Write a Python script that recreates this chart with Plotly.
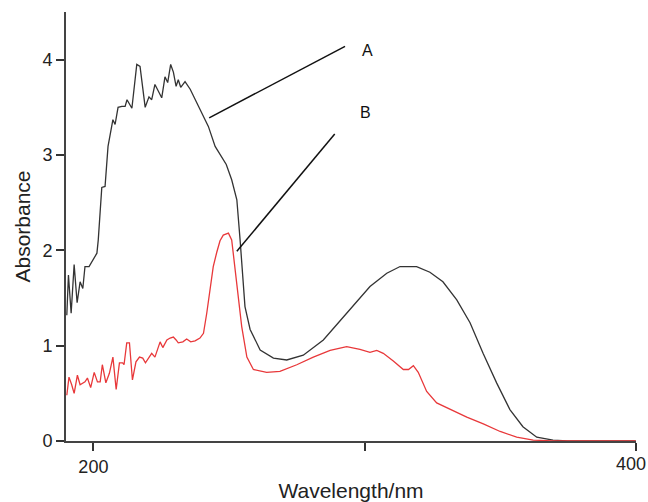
import plotly.graph_objects as go

# Curve A (black)
wl_a = [190.2, 190.8, 191.8, 192.9, 194.0, 195.1, 196.1, 196.9, 198.4, 199.9, 201.3, 201.8,
        203.1, 204.3, 205.4, 207.2, 208.0, 209.1, 210.5, 211.7, 212.4, 214.2, 216.0, 217.2,
        219.1, 220.5, 221.5, 222.7, 225.2, 226.4, 227.4, 228.5, 229.5, 230.5, 231.3, 232.2,
        233.8, 235.7, 238.1, 240.6, 242.4, 244.9, 246.7, 249.0, 251.0, 252.9, 254.1, 255.1, 255.9,
        257.8, 261.5, 266.4, 271.3, 277.4, 284.8, 293.4, 302.0, 308.2, 313.1, 319.2, 324.1,
        328.9, 334.0, 338.9, 343.7, 348.7, 353.6, 358.4, 363.5, 369.5, 374.7, 400.0]
abs_a = [1.32, 1.74, 1.34, 1.85, 1.45, 1.67, 1.60, 1.83, 1.83, 1.90, 1.97, 2.11,
         2.66, 2.67, 3.09, 3.37, 3.32, 3.50, 3.51, 3.51, 3.58, 3.49, 3.95, 3.93,
         3.50, 3.61, 3.58, 3.74, 3.60, 3.82, 3.76, 3.95, 3.87, 3.72, 3.79, 3.71,
         3.77, 3.69, 3.55, 3.42, 3.30, 3.09, 3.00, 2.90, 2.74, 2.53, 2.11, 1.69, 1.41,
         1.17, 0.955, 0.87, 0.85, 0.90, 1.06, 1.34, 1.62, 1.76, 1.83, 1.83, 1.77,
         1.67, 1.48, 1.24, 0.92, 0.61, 0.33, 0.15, 0.04, 0.01, 0.0, 0.0]

# Curve B (red)
wl_b = [190.2, 191.0, 192.0, 192.9, 194.1, 195.1, 196.9, 197.8, 199.0, 200.3, 201.5, 202.5,
        203.3, 204.6, 205.9, 207.2, 208.4, 209.6, 210.8, 211.3, 212.3, 213.3, 214.4, 215.7,
        217.0, 218.2, 219.2, 220.3, 221.5, 222.7, 224.6, 225.6, 227.1, 228.3, 229.5, 230.5,
        231.3, 233.0, 234.4, 235.9, 237.5, 239.3, 240.6, 241.8, 243.0, 244.2, 245.5, 246.7,
        247.9, 249.8, 251.0, 252.2, 253.5, 254.7, 256.6, 259.0, 263.9, 268.8, 275.0, 281.1,
        287.3, 293.4, 298.3, 302.0, 304.5, 306.9, 310.6, 314.3, 316.2, 318.0, 319.8, 322.9,
        326.6, 331.5, 337.7, 343.8, 350.0, 356.1, 362.2, 369.5, 400.0]
abs_b = [0.48, 0.67, 0.59, 0.50, 0.69, 0.59, 0.62, 0.66, 0.56, 0.72, 0.62, 0.62,
         0.80, 0.61, 0.71, 0.88, 0.54, 0.82, 0.82, 0.80, 1.03, 1.03, 0.64, 0.83,
         0.88, 0.87, 0.82, 0.87, 0.92, 0.88, 1.04, 0.98, 1.06, 1.08, 1.09, 1.06,
         1.03, 1.04, 1.07, 1.04, 1.05, 1.08, 1.13, 1.34, 1.59, 1.83, 1.98, 2.10,
         2.16, 2.18, 2.11, 1.83, 1.48, 1.20, 0.88, 0.75, 0.72, 0.73, 0.80, 0.88,
         0.95, 0.99, 0.96, 0.93, 0.95, 0.92, 0.84, 0.75, 0.75, 0.79, 0.72, 0.52,
         0.40, 0.33, 0.25, 0.18, 0.10, 0.04, 0.01, 0.0, 0.0]

# Label leader lines: (x0, y0, x1, y1) and label positions
lead_a = [242.7, 3.39, 292.8, 4.14]
lead_b = [252.9, 1.99, 289.0, 3.22]
label_a = [301.0, 4.10]
label_b = [300.2, 3.45]

x_ticks = [200, 300, 400]
x_ticktext = ["200", "", ""]
x_edge_label = [400, "400"]
y_ticks = [0, 1, 2, 3, 4]

FAM = "Liberation Sans, Arial"
tick_font = dict(family=FAM, size=18, color="#222222")
title_font = dict(family=FAM, size=21, color="#222222")

fig = go.Figure()
fig.add_trace(go.Scatter(x=wl_a, y=abs_a, mode="lines",
                         line=dict(color="#333333", width=1.3), showlegend=False))
fig.add_trace(go.Scatter(x=wl_b, y=abs_b, mode="lines",
                         line=dict(color="#e8383a", width=1.3), showlegend=False))

for ld in (lead_a, lead_b):
    fig.add_shape(type="line", xref="x", yref="y", x0=ld[0], y0=ld[1], x1=ld[2], y1=ld[3],
                  line=dict(color="#111111", width=1.5))

for txt, pos in (("A", label_a), ("B", label_b)):
    fig.add_annotation(x=pos[0], y=pos[1], xref="x", yref="y", text=txt, showarrow=False,
                       font=dict(family=FAM, size=16, color="#111111"))

# right-most tick label, shifted left so it stays inside the page
fig.add_annotation(x=x_edge_label[0], y=0, xref="x", yref="paper", text=x_edge_label[1],
                   showarrow=False, xanchor="right", yanchor="top", xshift=12, yshift=-11,
                   font=tick_font)

fig.update_layout(
    width=648, height=502,
    margin=dict(l=66, r=12, t=12, b=61),
    paper_bgcolor="white", plot_bgcolor="white",
    font=tick_font,
    xaxis=dict(range=[189.9, 400.1], tickvals=x_ticks, ticktext=x_ticktext,
               showgrid=False, zeroline=False, showline=True, linecolor="#444444", linewidth=2,
               ticks="outside", ticklen=8, tickwidth=1.5, tickcolor="#333333",
               tickfont=tick_font, automargin=False,
               title=dict(text="Wavelength/nm", font=title_font, standoff=13)),
    yaxis=dict(range=[0, 4.5], tickvals=y_ticks,
               showgrid=False, zeroline=False, showline=True, linecolor="#444444", linewidth=2,
               ticks="outside", ticklen=8, tickwidth=1.5, tickcolor="#333333",
               tickfont=tick_font, automargin=False,
               title=dict(text="Absorbance", font=title_font, standoff=6)),
)

fig.write_html("out.html")
